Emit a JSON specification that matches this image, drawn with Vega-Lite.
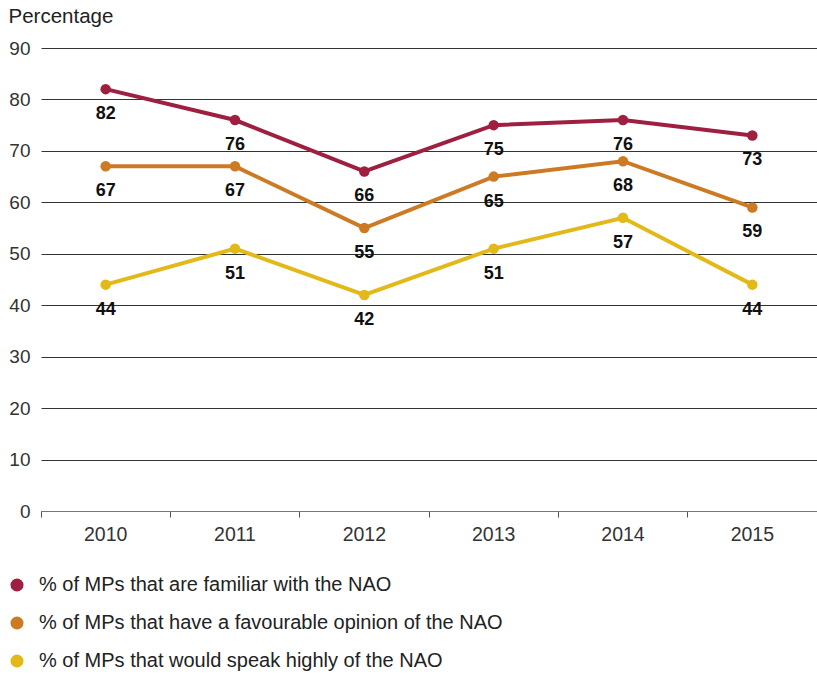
{
  "$schema": "https://vega.github.io/schema/vega-lite/v6.json",
  "autosize": {"type": "none"},
  "padding": {"left": 41, "top": 48, "right": 0, "bottom": 164},
  "width": 776,
  "height": 463,
  "background": "white",
  "config": {
    "view": {"stroke": null},
    "font": "Liberation Sans"
  },
  "data": {
    "values": [
      {"year": "2010", "series": "% of MPs that are familiar with the NAO", "value": 82},
      {"year": "2011", "series": "% of MPs that are familiar with the NAO", "value": 76},
      {"year": "2012", "series": "% of MPs that are familiar with the NAO", "value": 66},
      {"year": "2013", "series": "% of MPs that are familiar with the NAO", "value": 75},
      {"year": "2014", "series": "% of MPs that are familiar with the NAO", "value": 76},
      {"year": "2015", "series": "% of MPs that are familiar with the NAO", "value": 73},
      {"year": "2010", "series": "% of MPs that have a favourable opinion of the NAO", "value": 67},
      {"year": "2011", "series": "% of MPs that have a favourable opinion of the NAO", "value": 67},
      {"year": "2012", "series": "% of MPs that have a favourable opinion of the NAO", "value": 55},
      {"year": "2013", "series": "% of MPs that have a favourable opinion of the NAO", "value": 65},
      {"year": "2014", "series": "% of MPs that have a favourable opinion of the NAO", "value": 68},
      {"year": "2015", "series": "% of MPs that have a favourable opinion of the NAO", "value": 59},
      {"year": "2010", "series": "% of MPs that would speak highly of the NAO", "value": 44},
      {"year": "2011", "series": "% of MPs that would speak highly of the NAO", "value": 51},
      {"year": "2012", "series": "% of MPs that would speak highly of the NAO", "value": 42},
      {"year": "2013", "series": "% of MPs that would speak highly of the NAO", "value": 51},
      {"year": "2014", "series": "% of MPs that would speak highly of the NAO", "value": 57},
      {"year": "2015", "series": "% of MPs that would speak highly of the NAO", "value": 44}
    ]
  },
  "encoding": {
    "x": {
      "field": "year", "type": "ordinal",
      "scale": {"type": "band", "paddingInner": 0, "paddingOuter": 0},
      "axis": {
        "title": null, "bandPosition": 0,
        "labelAlign": "center", "labelAngle": 0,
        "labelPadding": 8, "labelFontSize": 19.5, "labelColor": "#333",
        "domain": true, "domainColor": "#777", "domainWidth": 1,
        "ticks": true, "tickSize": 6, "tickColor": "#555", "grid": false
      }
    },
    "y": {
      "field": "value", "type": "quantitative",
      "scale": {"domain": [0, 90]},
      "axis": {
        "values": [0, 10, 20, 30, 40, 50, 60, 70, 80, 90],
        "title": "Percentage", "titleAngle": 0, "titleX": -33, "titleY": -32,
        "titleAlign": "left", "titleBaseline": "middle", "titleFontSize": 20.5,
        "titleFontWeight": "normal", "titleColor": "#222",
        "domain": false, "ticks": false, "labelPadding": 11,
        "labelFontSize": 19, "labelColor": "#333",
        "grid": true, "gridColor": "#333", "gridWidth": 1, "gridOpacity": 1
      }
    }
  },
  "layer": [
    {
      "mark": {"type": "line", "strokeWidth": 4},
      "encoding": {
        "color": {
          "field": "series", "type": "nominal",
          "scale": {
            "domain": [
              "% of MPs that are familiar with the NAO",
              "% of MPs that have a favourable opinion of the NAO",
              "% of MPs that would speak highly of the NAO"
            ],
            "range": ["#9e1f3f", "#cc7a24", "#e2b919"]
          },
          "legend": {
            "title": null, "orient": "none", "legendX": -34, "legendY": 527,
            "direction": "vertical", "symbolType": "circle", "symbolSize": 170,
            "symbolOpacity": 1, "symbolStrokeWidth": 0, "symbolFillColor": null,
            "labelFontSize": 20, "labelColor": "#222", "labelOffset": 12,
            "rowPadding": 18, "padding": 0, "labelLimit": 600
          }
        }
      }
    },
    {
      "mark": {"type": "point", "filled": true, "opacity": 1, "size": 110},
      "encoding": {
        "color": {"field": "series", "type": "nominal"}
      }
    },
    {
      "mark": {"type": "text", "dy": 25, "fontSize": 18, "fontWeight": "bold", "color": "#111"},
      "encoding": {
        "text": {"field": "value", "type": "quantitative"},
        "detail": {"field": "series"}
      }
    }
  ]
}
